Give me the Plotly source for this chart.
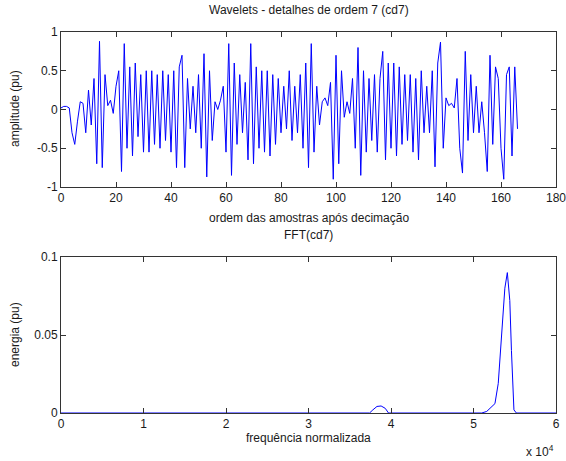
import plotly.graph_objects as go

# ---- data: wavelet details cd7 ----
cd7_values = [
    0.02, 0.04, 0.04, 0.02, -0.30, -0.45, -0.15, 0.10, 0.08, -0.30,
    0.25, -0.20, 0.40, -0.70, 0.88, -0.75, 0.45, 0.05, 0.12, -0.05,
    0.30, 0.50, -0.80, 0.85, -0.50, 0.55, -0.60, 0.60, -0.35, 0.45,
    -0.55, 0.50, -0.55, 0.50, -0.45, 0.45, -0.50, 0.50, -0.40, 0.45,
    -0.55, 0.50, -0.75, 0.55, 0.70, -0.75, 0.40, -0.25, 0.30, -0.30,
    0.45, -0.50, 0.72, -0.87, 0.50, -0.40, 0.10, 0.00, 0.12, 0.30,
    -0.55, 0.85, -0.85, 0.60, -0.45, 0.45, -0.30, 0.35, -0.65, 0.85,
    -0.70, 0.55, -0.50, 0.50, -0.55, 0.50, -0.60, 0.45, -0.45, 0.40,
    -0.30, 0.30, -0.25, 0.50, -0.40, 0.30, -0.30, 0.45, -0.50, 0.60,
    -0.75, 0.85, -0.55, 0.30, -0.20, 0.10, 0.15, 0.05, 0.35, -0.90,
    0.70, -0.70, 0.50, -0.10, 0.10, -0.05, 0.40, -0.50, 0.80, -0.85,
    0.50, -0.55, 0.40, -0.40, 0.45, -0.55, 0.40, 0.75, -0.65, 0.60,
    -0.50, 0.60, -0.60, 0.55, -0.45, 0.45, -0.40, 0.45, -0.55, 0.40,
    -0.65, 0.50, -0.30, 0.30, -0.30, 0.50, -0.74, 0.60, 0.87, -0.50,
    0.15, 0.05, 0.08, 0.02, 0.40, -0.50, -0.82, 0.75, -0.40, 0.45,
    -0.30, 0.30, -0.30, 0.10, -0.30, -0.80, 0.70, -0.45, 0.55, 0.40,
    -0.50, -0.90, 0.45, 0.55, -0.60, 0.55, -0.25,
]
sample_index = list(range(len(cd7_values)))

# ---- data: FFT(cd7) ----
fft_freq = [0, 37400, 37800, 38300, 38800, 39300, 39700, 51000, 51600, 52200,
            52600, 53000, 53400, 53800, 54100, 54400, 54600, 54800, 54900,
            55200, 60000]
fft_energy = [0, 0, 0.002, 0.0042, 0.0045, 0.003, 0, 0, 0.001, 0.004,
              0.006, 0.019, 0.051, 0.080, 0.090, 0.072, 0.040, 0.010, 0.002,
              0, 0]

top_xticks = [0, 20, 40, 60, 80, 100, 120, 140, 160, 180]
top_yticks = [-1, -0.5, 0, 0.5, 1]
top_ytext = ["-1", "-0.5", "0", "0.5", "1"]
bot_xticks = [0, 10000, 20000, 30000, 40000, 50000, 60000]
bot_xtext = ["0", "1", "2", "3", "4", "5", "6"]
bot_yticks = [0, 0.05, 0.1]
bot_ytext = ["0", "0.05", "0.1"]

W, H = 566, 461
L, R, T, B = 61, 10, 32, 48
PW, PH = W - L - R, H - T - B


def px(x):
    return (x - L) / PW


def py(y):
    return (H - B - y) / PH


line_col = "#0000ff"
font_fam = "Liberation Sans, Arial, sans-serif"
txt_col = "#1a1a1a"

fig = go.Figure()
fig.add_trace(go.Scatter(x=sample_index, y=cd7_values, mode="lines",
                         line=dict(color=line_col, width=1),
                         xaxis="x", yaxis="y", showlegend=False))
fig.add_trace(go.Scatter(x=fft_freq, y=fft_energy, mode="lines",
                         line=dict(color=line_col, width=1),
                         xaxis="x2", yaxis="y2", showlegend=False))

axis_common = dict(showline=True, linecolor="#333333", linewidth=1,
                   mirror="ticks", ticks="inside", ticklen=5,
                   tickcolor="#333333", showgrid=False, zeroline=False,
                   automargin=False, ticklabeloverflow="allow",
                   tickfont=dict(family=font_fam, size=12, color=txt_col))

top_dom = [py(187), 1.0]
bot_dom = [0.0, py(257)]

fig.update_layout(
    width=W, height=H,
    margin=dict(l=L, r=R, t=T, b=B, autoexpand=False),
    paper_bgcolor="white", plot_bgcolor="white",
    xaxis=dict(axis_common, domain=[0, 1], range=[0, 180],
               tickvals=top_xticks, anchor="y"),
    yaxis=dict(axis_common, domain=top_dom, range=[-1, 1],
               tickvals=top_yticks, ticktext=top_ytext, anchor="x"),
    xaxis2=dict(axis_common, domain=[0, 1], range=[0, 60000],
                tickvals=bot_xticks, ticktext=bot_xtext, anchor="y2"),
    yaxis2=dict(axis_common, domain=bot_dom, range=[0, 0.1],
                tickvals=bot_yticks, ticktext=bot_ytext, anchor="x2"),
)

ann_font = dict(family=font_fam, size=12, color=txt_col)
annots = [
    dict(text="Wavelets - detalhes de ordem 7 (cd7)", x=px(308.5), y=py(10)),
    dict(text="ordem das amostras após decimação", x=px(308.5), y=py(218)),
    dict(text="FFT(cd7)", x=px(308.5), y=py(235)),
    dict(text="frequência normalizada", x=px(308.5), y=py(438)),
    dict(text="amplitude (pu)", x=px(15), y=py(109), textangle=-90),
    dict(text="energia (pu)", x=px(15), y=py(335), textangle=-90),
    dict(text="x 10<sup>4</sup>", x=px(540), y=py(451)),
]
for a in annots:
    fig.add_annotation(xref="paper", yref="paper", showarrow=False,
                       xanchor="center", yanchor="middle", font=ann_font, **a)

fig.write_html(
    "out.html",
    config={"displayModeBar": False},
    post_script="document.body.style.margin='0';"
                "document.body.style.overflow='hidden';",
)
